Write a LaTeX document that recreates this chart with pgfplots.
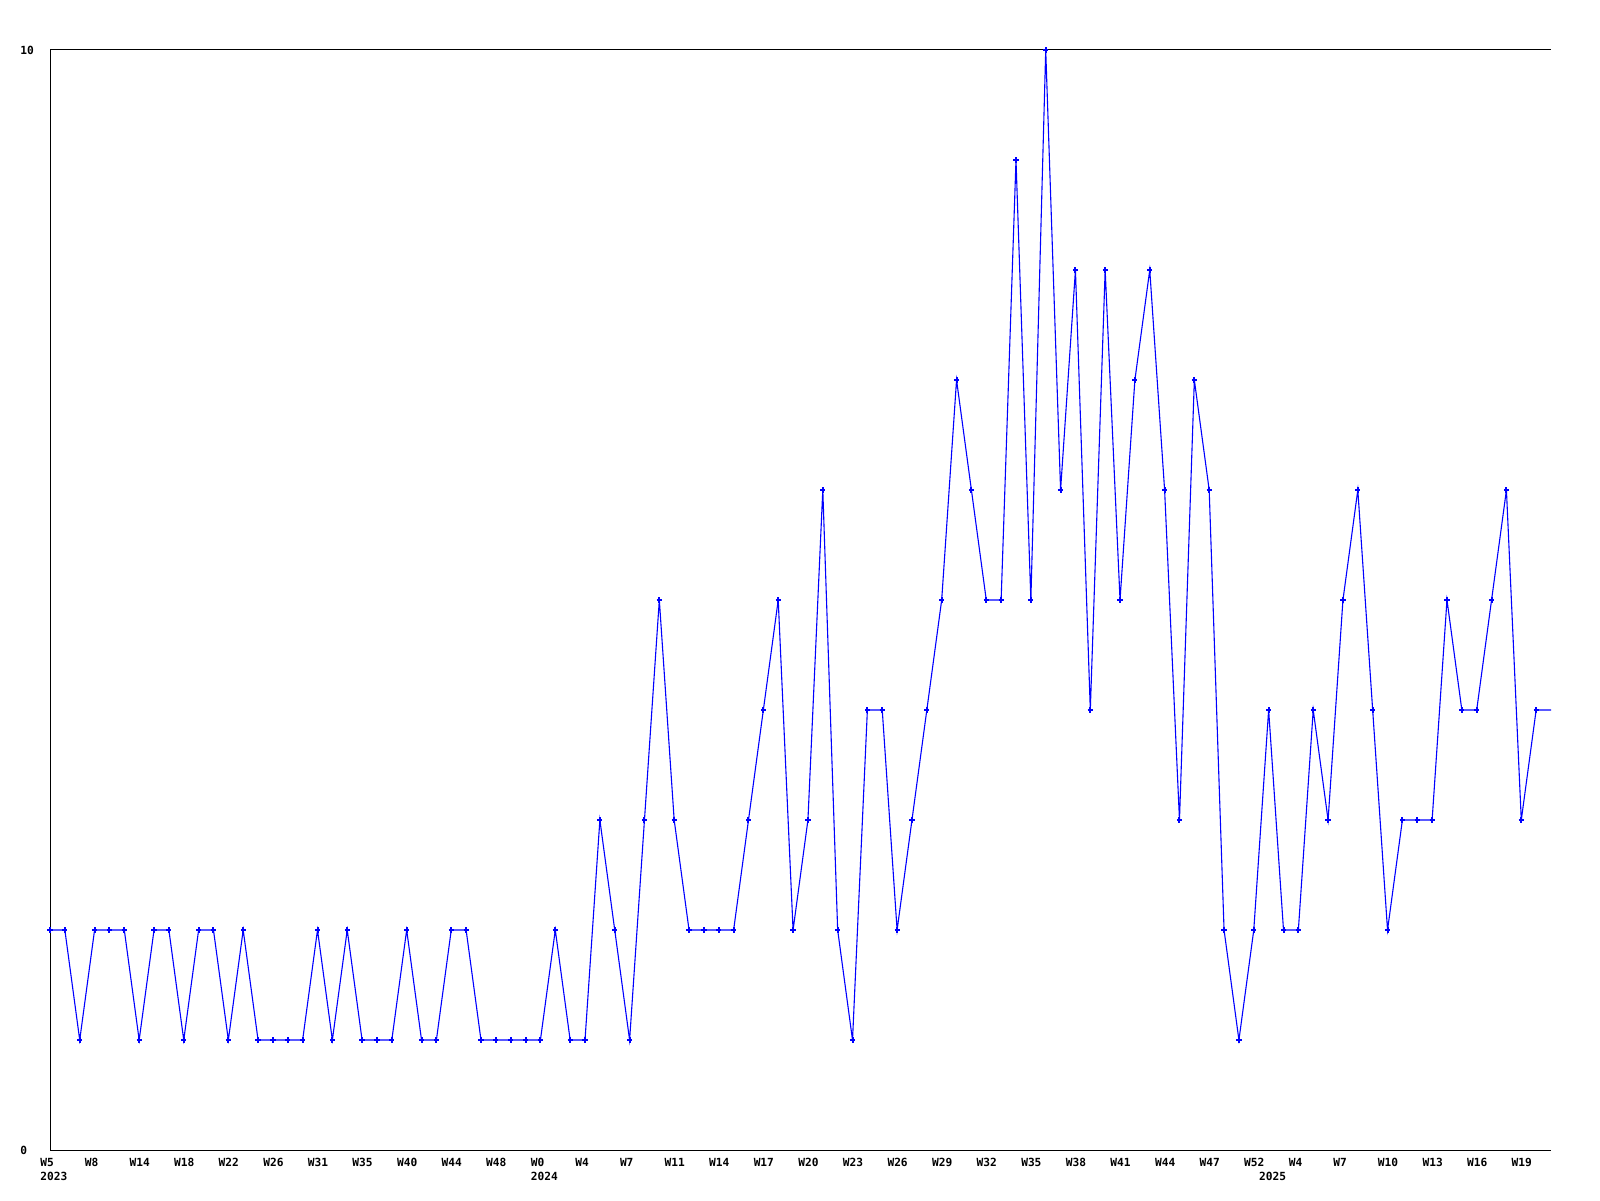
\documentclass[border=0pt]{standalone}
\usepackage{fontspec}
\setmonofont{DejaVu Sans Mono}
\usepackage{pgfplots}
\pgfplotsset{compat=1.18}
\usepackage{pgfplotstable}
\newcommand\lblfont{\ttfamily\bfseries\fontsize{5.6pt}{6.5pt}\selectfont}
\pgfplotstableread{
x y
0 2
1 2
2 1
3 2
4 2
5 2
6 1
7 2
8 2
9 1
10 2
11 2
12 1
13 2
14 1
15 1
16 1
17 1
18 2
19 1
20 2
21 1
22 1
23 1
24 2
25 1
26 1
27 2
28 2
29 1
30 1
31 1
32 1
33 1
34 2
35 1
36 1
37 3
38 2
39 1
40 3
41 5
42 3
43 2
44 2
45 2
46 2
47 3
48 4
49 5
50 2
51 3
52 6
53 2
54 1
55 4
56 4
57 2
58 3
59 4
60 5
61 7
62 6
63 5
64 5
65 9
66 5
67 10
68 6
69 8
70 4
71 8
72 5
73 7
74 8
75 6
76 3
77 7
78 6
79 2
80 1
81 2
82 4
83 2
84 2
85 4
86 3
87 5
88 6
89 4
90 2
91 3
92 3
93 3
94 5
95 4
96 4
97 5
98 6
99 3
100 4
101 4
}\data
\begin{document}
\begin{tikzpicture}[x=1pt,y=1pt]
\path[use as bounding box] (0,0) rectangle (800,600);
\begin{axis}[
  at={(25pt,25pt)}, anchor=south west,
  scale only axis, width=750.5pt, height=550pt,
  xmin=0, xmax=101, ymin=0, ymax=10,
  axis x line=box, axis y line=left,
  axis line style={-, black, line width=0.5pt},
  major tick length=0pt,
  /pgf/number format/assume math mode=true,
  ytick={0,10}, yticklabels={0,10},
  yticklabel style={anchor=west, inner sep=0pt, xshift=-15pt, font=\lblfont},
  xtick={0,3,...,99},
  xticklabels={W5,W8,W14,W18,W22,W26,W31,W35,W40,W44,W48,W0,W4,W7,W11,W14,W17,W20,W23,W26,W29,W32,W35,W38,W41,W44,W47,W52,W4,W7,W10,W13,W16,W19},
  xticklabel style={anchor=north west, inner sep=0pt, xshift=-5pt, yshift=-4pt, font=\lblfont},
  extra x ticks={0,33,82},
  extra x tick labels={2023,2024,2025},
  extra x tick style={xticklabel style={yshift=-7pt}},
]
\addplot[blue, line width=0.55pt, mark=none] table[x=x,y=y]{\data};
\addplot[blue, only marks, mark=+, mark size=1.3pt, mark options={line width=1pt}, restrict x to domain=0:100] table[x=x,y=y]{\data};
\end{axis}
\end{tikzpicture}
\end{document}
